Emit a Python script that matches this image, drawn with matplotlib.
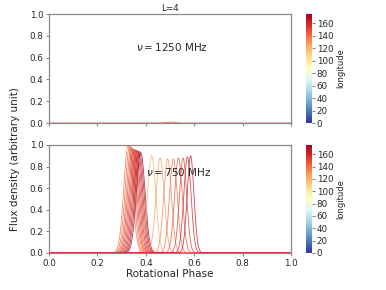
import numpy as np
import matplotlib
matplotlib.use("Agg")
import matplotlib.pyplot as plt
from matplotlib.colors import Normalize
from matplotlib.cm import ScalarMappable

# ---- data ----
# 750 MHz pulses: peak phase, peak height, width (sigma), longitude
centers_750 = [0.327, 0.333, 0.339, 0.344, 0.349, 0.354, 0.359, 0.364, 0.369, 0.374, 0.379,
               0.424, 0.459, 0.490, 0.514, 0.535, 0.554, 0.572, 0.585]
heights_750 = [1.00, 0.99, 0.98, 0.97, 0.96, 0.96, 0.95, 0.95, 0.94, 0.94, 0.93,
               0.90, 0.88, 0.87, 0.87, 0.88, 0.88, 0.89, 0.90]
widths_750 = [0.018, 0.018, 0.018, 0.018, 0.018, 0.018, 0.018, 0.018, 0.018, 0.018, 0.018,
              0.017, 0.017, 0.016, 0.016, 0.016, 0.015, 0.015, 0.014]
lon_750 = [138, 142, 146, 150, 153, 156, 159, 162, 165, 168, 171,
           122, 128, 134, 140, 147, 153, 160, 166]

# 1250 MHz: tiny bump
centers_1250 = [0.505]
heights_1250 = [0.008]
widths_1250 = [0.015]
lon_1250 = [155]

cbar_ticks = [0, 20, 40, 60, 80, 100, 120, 140, 160]
lon_min, lon_max = 0, 175

W, H = 386, 290
fig = plt.figure(figsize=(W / 100, H / 100), dpi=100)

cmap = plt.get_cmap("RdYlBu_r")
norm = Normalize(vmin=lon_min, vmax=lon_max)
phase = np.linspace(0, 1, 1000)

gray = "#8a8a8a"
tc = "#262626"

def style(ax):
    for s in ax.spines.values():
        s.set_color(gray)
        s.set_linewidth(0.9)
    ax.tick_params(colors=gray, labelcolor=tc, labelsize=6.3, length=2.5, width=0.8, pad=1.5)
    ax.set_xlim(0, 1)
    ax.set_ylim(0, 1)
    ax.set_xticks([0, 0.2, 0.4, 0.6, 0.8, 1.0])
    ax.set_yticks([0, 0.2, 0.4, 0.6, 0.8, 1.0])

ax1 = fig.add_axes([49 / W, 1 - 123 / H, 242 / W, 109 / H])
ax2 = fig.add_axes([49 / W, 1 - 253 / H, 242 / W, 108 / H])

for ax, cs, hs, ws, ls in [(ax1, centers_1250, heights_1250, widths_1250, lon_1250),
                           (ax2, centers_750, heights_750, widths_750, lon_750)]:
    for c, h, w, l in zip(cs, hs, ws, ls):
        y = h * np.exp(-0.5 * ((phase - c) / w) ** 2)
        ax.plot(phase, y, color=cmap(norm(l)), lw=0.6, alpha=0.8)
    style(ax)

ax1.set_xticklabels([])
ax1.set_title("L=4", fontsize=6.3, color=tc, pad=2)
ax1.text(0.36, 0.70, r"$\nu = 1250$ MHz", fontsize=7.5, color=tc, va="center")
ax2.text(0.40, 0.75, r"$\nu = 750$ MHz", fontsize=7.5, color=tc, va="center")
ax2.set_xlabel("Rotational Phase", fontsize=7.5, color=tc, labelpad=1)
fig.text(15 / W, 1 - 159 / H, "Flux density (arbitrary unit)",
         rotation=90, fontsize=7.5, color=tc, ha="center", va="center")

for ax, top, h in [(ax1, 14, 109), (ax2, 145, 108)]:
    cax = fig.add_axes([306 / W, 1 - (top + h) / H, 6 / W, h / H])
    sm = ScalarMappable(norm=norm, cmap=cmap)
    cb = fig.colorbar(sm, cax=cax)
    cb.set_ticks(cbar_ticks)
    cb.outline.set_visible(False)
    cax.tick_params(colors=gray, labelcolor=tc, labelsize=6.3, length=2.5, width=0.8, pad=1)
    cb.set_label("longitude", fontsize=6, color=tc, labelpad=2)

fig.savefig("out.png", dpi=100)
